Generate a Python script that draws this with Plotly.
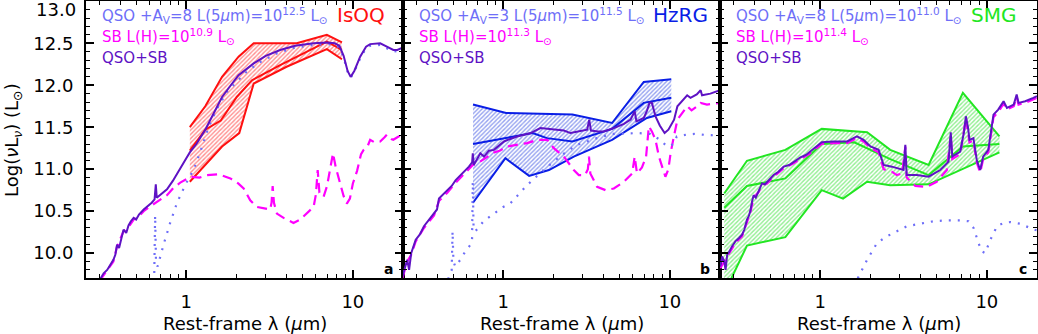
import numpy as np
import plotly.graph_objects as go

# ---- panel a : IsOQ ----
isoq_tot_wl = [0.302, 0.319, 0.335, 0.35, 0.365, 0.375, 0.384, 0.395, 0.41, 0.42, 0.436, 0.45, 0.465, 0.483,
               0.50, 0.52, 0.555, 0.59, 0.62, 0.645, 0.656, 0.665, 0.70, 0.766, 0.83, 0.88, 0.94, 1.0, 1.05,
               1.15, 1.30, 1.46, 1.64, 1.85, 2.06, 2.54, 3.0, 3.66, 4.5, 5.8, 7.0, 7.8, 8.3, 8.8, 9.3, 9.7,
               10.2, 11.06, 12.0, 12.7, 14.6, 16.0, 17.5, 18.5, 20.0]
isoq_tot_lum = [9.68, 9.76, 9.80, 9.86, 9.92, 9.98, 10.10, 10.06, 10.20, 10.28, 10.24, 10.33, 10.38, 10.42,
                10.40, 10.46, 10.52, 10.56, 10.60, 10.64, 10.82, 10.66, 10.70, 10.76, 10.86, 10.95, 11.05, 11.13,
                11.20, 11.30, 11.47, 11.67, 11.86, 12.00, 12.12, 12.26, 12.35, 12.42, 12.47, 12.50, 12.51, 12.50,
                12.47, 12.35, 12.17, 12.10, 12.17, 12.34, 12.46, 12.49, 12.50, 12.46, 12.42, 12.42, 12.45]
isoq_sb_wl = [0.302, 0.335, 0.365, 0.384, 0.42, 0.45, 0.483, 0.52, 0.555, 0.59, 0.62, 0.656, 0.70, 0.766,
              0.84, 0.92, 1.0, 1.06, 1.2, 1.33, 1.56, 1.84, 2.05, 2.21, 2.42, 2.65, 3.0, 3.19, 3.25, 3.3,
              3.36, 3.5, 3.84, 4.4, 4.83, 5.3, 5.81, 6.0, 6.15, 6.3, 6.67, 7.0, 7.6, 7.9, 8.4, 8.8, 9.2,
              9.6, 10.0, 10.6, 11.2, 11.6, 12.3, 12.7, 13.5, 14.6, 15.5, 16.0, 17.0, 17.5, 18.5, 20.0]
isoq_sb_lum = [9.67, 9.79, 9.90, 10.08, 10.26, 10.31, 10.40, 10.44, 10.50, 10.54, 10.57, 10.60, 10.64, 10.69,
               10.78, 10.84, 10.88, 10.91, 10.90, 10.93, 10.94, 10.89, 10.83, 10.77, 10.63, 10.55, 10.53, 10.52,
               10.60, 10.80, 10.60, 10.47, 10.42, 10.36, 10.40, 10.47, 10.55, 10.70, 10.99, 10.72, 10.67, 10.80,
               11.19, 11.02, 10.83, 10.68, 10.59, 10.65, 10.83, 10.98, 11.18, 11.23, 11.28, 11.35, 11.32, 11.33,
               11.38, 11.41, 11.36, 11.35, 11.38, 11.42]
isoq_qso_wl = [0.640, 0.650, 0.658, 0.673, 0.73, 0.80, 0.88, 0.99, 1.11, 1.21, 1.36, 1.53, 1.75, 2.01, 2.3,
               2.8, 3.5, 4.5, 5.8, 7.0, 7.8, 8.3, 8.8, 9.3, 9.7, 10.2, 11.06, 12.0, 12.7, 14.6, 16.0, 17.5, 20.0]
isoq_qso_lum = [9.55, 10.45, 9.90, 9.84, 10.10, 10.36, 10.60, 10.82, 11.00, 11.20, 11.50, 11.72, 11.92, 12.04,
                12.16, 12.28, 12.38, 12.45, 12.48, 12.49, 12.48, 12.45, 12.33, 12.16, 12.09, 12.16, 12.32, 12.44,
                12.47, 12.48, 12.44, 12.40, 12.42]
isoq_up_wl = [1.05, 1.30, 1.64, 2.06, 2.54, 4.6, 6.98, 8.6]
isoq_up_lum = [11.50, 11.75, 12.10, 12.34, 12.50, 12.50, 12.60, 12.51]
isoq_mid_wl = [1.05, 1.30, 1.61, 2.01, 2.48, 3.66, 6.98, 8.6]
isoq_mid_lum = [11.22, 11.47, 11.58, 11.86, 12.06, 12.24, 12.52, 12.42]
isoq_lo_wl = [1.05, 1.30, 1.64, 2.08, 2.54, 4.0, 6.98, 8.6]
isoq_lo_lum = [10.85, 11.05, 11.27, 11.43, 12.02, 12.22, 12.43, 12.31]

# ---- panel b : HzRG ----
hzrg_tot_wl = [0.248, 0.258, 0.265, 0.272, 0.28, 0.298, 0.315, 0.334, 0.36, 0.384, 0.40, 0.411, 0.435, 0.461,
               0.49, 0.518, 0.55, 0.581, 0.622, 0.65, 0.656, 0.665, 0.70, 0.728, 0.766, 0.82, 0.879, 0.95,
               1.01, 1.1, 1.21, 1.33, 1.46, 1.67, 1.85, 2.01, 2.31, 2.53, 2.9, 3.19, 3.28, 3.36, 3.7, 4.02,
               4.61, 5.3, 5.81, 6.15, 6.3, 6.98, 7.3, 7.55, 7.8, 8.2, 8.7, 9.0, 9.3, 9.8, 10.6, 11.1, 12.1,
               12.7, 13.3, 14.5, 15.3, 15.6, 17.5, 20.0]
hzrg_tot_lum = [9.72, 9.85, 9.92, 9.80, 10.00, 10.16, 10.22, 10.32, 10.40, 10.48, 10.52, 10.65, 10.70, 10.75,
                10.80, 10.87, 10.92, 10.97, 11.03, 11.08, 11.19, 11.05, 11.12, 11.19, 11.15, 11.22, 11.23, 11.28,
                11.33, 11.36, 11.39, 11.41, 11.43, 11.49, 11.48, 11.47, 11.46, 11.43, 11.45, 11.47, 11.59, 11.46,
                11.45, 11.45, 11.49, 11.54, 11.59, 11.69, 11.57, 11.61, 11.70, 11.79, 11.79, 11.63, 11.52, 11.47,
                11.43, 11.47, 11.59, 11.75, 11.83, 11.88, 11.85, 11.89, 11.94, 11.88, 11.90, 11.94]
hzrg_sb_wl = [0.248, 0.265, 0.28, 0.298, 0.334, 0.384, 0.411, 0.461, 0.518, 0.581, 0.622, 0.656, 0.70, 0.766,
              0.82, 0.88, 0.95, 1.06, 1.2, 1.39, 1.6, 1.84, 2.01, 2.31, 2.65, 2.84, 3.1, 3.22, 3.27, 3.33,
              3.66, 4.11, 4.61, 5.3, 5.94, 6.15, 6.35, 6.8, 7.2, 7.48, 7.8, 8.2, 8.6, 9.0, 9.4, 9.8, 10.1,
              10.6, 11.1, 12.7, 13.5, 14.6, 15.3, 16.7, 20.0]
hzrg_sb_lum = [9.70, 9.90, 9.98, 10.14, 10.30, 10.45, 10.62, 10.72, 10.84, 10.94, 11.00, 11.05, 11.07, 11.12,
               11.16, 11.20, 11.22, 11.27, 11.29, 11.31, 11.35, 11.35, 11.25, 11.15, 10.99, 10.93, 10.93, 11.00,
               11.15, 10.95, 10.79, 10.75, 10.77, 10.85, 10.95, 11.15, 10.95, 11.02, 11.15, 11.51, 11.45, 11.35,
               11.15, 11.03, 10.91, 11.00, 11.19, 11.40, 11.59, 11.75, 11.70, 11.75, 11.79, 11.77, 11.79]
hzrg_qso_wl = [0.466, 0.49, 0.496, 0.502, 0.515, 0.552, 0.60, 0.649, 0.656, 0.663, 0.68, 0.762, 0.836, 0.875,
               1.0, 1.10, 1.39, 1.79, 2.25, 2.77, 3.65, 4.5, 5.5, 6.5, 7.6, 8.75, 9.4, 10.0, 10.6, 11.0, 12.5,
               14.0, 16.0, 20.0]
hzrg_qso_lum = [9.69, 9.80, 10.26, 9.90, 9.84, 9.92, 10.04, 10.12, 10.85, 10.30, 10.26, 10.38, 10.44, 10.47,
                10.55, 10.59, 10.81, 11.01, 11.17, 11.29, 11.37, 11.42, 11.43, 11.43, 11.42, 11.35, 11.29, 11.27,
                11.31, 11.39, 11.41, 11.42, 11.41, 11.40]
hzrg_up_wl = [0.658, 1.04, 2.6, 3.3, 4.5, 6.97, 10.2]
hzrg_up_lum = [11.77, 11.67, 11.65, 11.61, 11.55, 12.04, 12.07]
hzrg_mid_wl = [0.658, 1.5, 1.83, 2.6, 4.5, 6.97, 10.2]
hzrg_mid_lum = [11.30, 11.43, 11.37, 11.33, 11.48, 11.79, 11.85]
hzrg_lo_wl = [0.658, 1.03, 1.43, 1.88, 2.65, 4.5, 7.28, 10.2]
hzrg_lo_lum = [10.60, 11.13, 10.92, 10.99, 11.15, 11.35, 11.61, 11.69]

# ---- panel c : SMG ----
smg_tot_wl = [0.251, 0.258, 0.265, 0.270, 0.276, 0.285, 0.295, 0.309, 0.325, 0.339, 0.35, 0.363, 0.372, 0.38,
              0.39, 0.398, 0.41, 0.427, 0.447, 0.465, 0.479, 0.50, 0.525, 0.56, 0.603, 0.65, 0.692, 0.76, 0.82,
              0.871, 0.95, 1.02, 1.2, 1.45, 1.55, 1.66, 1.82, 2.0, 2.24, 2.32, 2.40, 2.69, 3.16, 3.24, 3.30,
              3.8, 4.47, 5.25, 5.89, 6.07, 6.2, 6.92, 7.3, 7.48, 7.7, 7.87, 8.3, 8.7, 9.12, 9.5, 10.2, 10.96,
              11.7, 12.6, 13.2, 14.5, 15.1, 15.5, 17.0, 19.0, 20.0]
smg_tot_lum = [9.84, 9.96, 9.90, 9.80, 9.98, 10.02, 10.08, 10.14, 10.18, 10.22, 10.28, 10.40, 10.44, 10.50,
               10.62, 10.69, 10.66, 10.75, 10.83, 10.82, 10.85, 10.88, 10.93, 10.97, 11.03, 11.05, 11.09, 11.14,
               11.17, 11.21, 11.27, 11.32, 11.33, 11.33, 11.36, 11.39, 11.35, 11.27, 11.23, 11.15, 11.05, 11.03,
               10.99, 11.29, 10.93, 10.93, 10.91, 10.99, 11.09, 11.44, 11.15, 11.21, 11.45, 11.63, 11.50, 11.35,
               11.37, 11.11, 10.99, 11.15, 11.23, 11.65, 11.71, 11.81, 11.73, 11.77, 11.89, 11.79, 11.81, 11.85,
               11.87]
smg_sb_wl = [0.251, 0.276, 0.309, 0.339, 0.363, 0.38, 0.398, 0.427, 0.447, 0.479, 0.525, 0.603, 0.692, 0.76,
             0.871, 1.02, 1.2, 1.45, 1.66, 1.82, 2.0, 2.24, 2.40, 2.69, 2.88, 3.1, 3.24, 3.30, 3.72, 4.37, 5.0,
             5.75, 6.07, 6.2, 6.92, 7.48, 7.87, 8.3, 8.7, 9.12, 9.5, 10.2, 10.96, 11.7, 12.6, 13.2, 14.5, 15.1,
             15.5, 17.0, 20.0]
smg_sb_lum = [9.82, 9.96, 10.12, 10.20, 10.38, 10.48, 10.66, 10.73, 10.81, 10.83, 10.91, 11.01, 11.07, 11.12,
              11.19, 11.30, 11.31, 11.31, 11.37, 11.33, 11.25, 11.20, 11.00, 10.97, 10.93, 10.95, 11.27, 10.90,
              10.80, 10.79, 10.85, 10.99, 11.40, 11.12, 11.18, 11.60, 11.32, 11.34, 11.08, 10.96, 11.12, 11.20,
              11.62, 11.68, 11.78, 11.71, 11.75, 11.86, 11.77, 11.79, 11.85]
smg_qso_wl = [1.60, 1.66, 1.91, 2.19, 2.51, 2.88, 3.31, 3.98, 4.79, 5.75, 6.92, 7.76, 8.32, 8.91, 9.33, 9.77,
              10.5, 11.5, 12.6, 13.8, 15.8, 19.2, 20.0]
smg_qso_lum = [9.60, 9.68, 9.92, 10.12, 10.20, 10.26, 10.32, 10.35, 10.38, 10.39, 10.39, 10.38, 10.30, 10.12,
               10.02, 10.00, 10.16, 10.32, 10.36, 10.37, 10.35, 10.28, 10.27]
smg_up_wl = [0.265, 0.363, 0.617, 1.02, 1.91, 2.63, 4.47, 7.18, 11.9]
smg_up_lum = [10.71, 11.10, 11.23, 11.48, 11.44, 11.23, 11.05, 11.91, 11.39]
smg_mid_wl = [0.265, 0.363, 0.617, 1.02, 1.6, 2.63, 4.47, 7.18, 11.9]
smg_mid_lum = [10.54, 10.80, 10.89, 11.30, 11.32, 11.12, 10.93, 11.27, 11.30]
smg_lo_wl = [0.265, 0.363, 0.617, 1.02, 1.37, 1.91, 2.63, 4.47, 11.9]
smg_lo_lum = [9.52, 10.09, 10.19, 10.75, 10.65, 10.85, 10.81, 10.82, 11.20]

y_tickvals = [10.0, 10.5, 11.0, 11.5, 12.0, 12.5]

panel_names = ["IsOQ", "HzRG", "SMG"]
panel_letters = ["a", "b", "c"]
qso_labels = ["QSO +A<sub>V</sub>=8 L(5<i>μ</i>m)=10<sup>12.5</sup> L<sub>⊙</sub>",
              "QSO +A<sub>V</sub>=3 L(5<i>μ</i>m)=10<sup>11.5</sup> L<sub>⊙</sub>",
              "QSO +A<sub>V</sub>=8 L(5<i>μ</i>m)=10<sup>11.0</sup> L<sub>⊙</sub>"]
sb_labels = ["SB L(H)=10<sup>10.9</sup> L<sub>⊙</sub>",
             "SB L(H)=10<sup>11.3</sup> L<sub>⊙</sub>",
             "SB L(H)=10<sup>11.4</sup> L<sub>⊙</sub>"]

QSO_C = "#6e6ef8"
SB_C = "#ff00ff"
TOT_C = "#5e12c4"
FONT = "DejaVu Sans"

panels = [
    dict(tot=(isoq_tot_wl, isoq_tot_lum), sb=(isoq_sb_wl, isoq_sb_lum), qso=(isoq_qso_wl, isoq_qso_lum),
         up=(isoq_up_wl, isoq_up_lum), mid=(isoq_mid_wl, isoq_mid_lum), lo=(isoq_lo_wl, isoq_lo_lum),
         color="#ff1010", hatch="#ff2020", name_x=0.949),
    dict(tot=(hzrg_tot_wl, hzrg_tot_lum), sb=(hzrg_sb_wl, hzrg_sb_lum), qso=(hzrg_qso_wl, hzrg_qso_lum),
         up=(hzrg_up_wl, hzrg_up_lum), mid=(hzrg_mid_wl, hzrg_mid_lum), lo=(hzrg_lo_wl, hzrg_lo_lum),
         color="#0a1ee6", hatch="#2a44e0", name_x=0.968),
    dict(tot=(smg_tot_wl, smg_tot_lum), sb=(smg_sb_wl, smg_sb_lum), qso=(smg_qso_wl, smg_qso_lum),
         up=(smg_up_wl, smg_up_lum), mid=(smg_mid_wl, smg_mid_lum), lo=(smg_lo_wl, smg_lo_lum),
         color="#22e622", hatch="#22dd22", name_x=0.940),
]

W, H = 1038, 334
x_edges = [86, 403, 720, 1037]
y_top, y_bot = 1.3, 278.3

fig = go.Figure()
annotations = []
for i, p in enumerate(panels):
    n = "" if i == 0 else str(i + 1)
    xa, ya = "x" + n, "y" + n
    up_x, up_y = p["up"]
    lo_x, lo_y = p["lo"]
    # hatched band between upper and lower bounds
    fig.add_trace(go.Scatter(x=list(up_x) + list(lo_x)[::-1], y=list(up_y) + list(lo_y)[::-1],
                             xaxis=xa, yaxis=ya, mode="lines", fill="toself",
                             fillcolor="rgba(0,0,0,0)", line=dict(width=0),
                             fillpattern=dict(shape="/", fgcolor=p["hatch"], bgcolor="rgba(255,255,255,0)",
                                              size=3, solidity=0.45),
                             hoverinfo="skip", showlegend=False))
    for key in ("up", "mid", "lo"):
        fig.add_trace(go.Scatter(x=p[key][0], y=p[key][1], xaxis=xa, yaxis=ya, mode="lines",
                                 line=dict(color=p["color"], width=2), showlegend=False))
    fig.add_trace(go.Scatter(x=p["sb"][0], y=p["sb"][1], xaxis=xa, yaxis=ya, mode="lines",
                             line=dict(color=SB_C, width=2.2, dash="10px,6px"), showlegend=False))
    fig.add_trace(go.Scatter(x=p["qso"][0], y=p["qso"][1], xaxis=xa, yaxis=ya, mode="lines",
                             line=dict(color=QSO_C, width=2.2, dash="2px,7px"), showlegend=False))
    fig.add_trace(go.Scatter(x=p["tot"][0], y=p["tot"][1], xaxis=xa, yaxis=ya, mode="lines",
                             line=dict(color=TOT_C, width=2), showlegend=False))

    dom = [x_edges[i] / W, x_edges[i + 1] / W]
    fig.update_layout(**{
        "xaxis" + n: dict(type="log", domain=dom, range=[np.log10(0.25), np.log10(20)], anchor=ya,
                          showline=True, linecolor="black", linewidth=2, mirror="allticks",
                          ticks="inside", ticklen=8, tickwidth=1.5, tickcolor="black",
                          tickmode="array", tickvals=[1, 10], ticktext=["1", "10"],
                          ticklabelstandoff=6, showgrid=False, zeroline=False,
                          tickfont=dict(family=FONT, size=18, color="black"),
                          minor=dict(tickmode="array",
                                     tickvals=[0.3, 0.4, 0.5, 0.6, 0.7, 0.8, 0.9, 2, 3, 4, 5, 6, 7, 8, 9, 20],
                                     ticks="inside", ticklen=4, tickwidth=1, tickcolor="black", showgrid=False)),
        "yaxis" + n: dict(domain=[(H - y_bot) / H, (H - y_top) / H], range=[9.7, 13.0], anchor=xa,
                          showline=True, linecolor="black", linewidth=2, mirror="allticks",
                          ticks="inside", ticklen=8, tickwidth=1.5, tickcolor="black",
                          tickmode="array", tickvals=y_tickvals + [13.0],
                          ticktext=[f"{v:.1f}" for v in y_tickvals] + [""],
                          showticklabels=(i == 0),
                          ticklabelstandoff=7, showgrid=False, zeroline=False,
                          tickfont=dict(family=FONT, size=18, color="black"),
                          minor=dict(dtick=0.1, tick0=9.7, ticks="inside", ticklen=4, tickwidth=1,
                                     tickcolor="black", showgrid=False)),
    })

    xd, yd = xa + " domain", ya + " domain"
    for text, color, yy in ((qso_labels[i], QSO_C, 0.947), (sb_labels[i], SB_C, 0.873), ("QSO+SB", TOT_C, 0.797)):
        annotations.append(dict(text=text, xref=xd, yref=yd, x=0.044, y=yy, xanchor="left", yanchor="middle",
                                showarrow=False, font=dict(family=FONT, size=15, color=color)))
    annotations.append(dict(text=panel_names[i], xref=xd, yref=yd, x=p["name_x"], y=0.952, xanchor="right",
                            yanchor="middle", showarrow=False, font=dict(family=FONT, size=20, color=p["color"])))
    annotations.append(dict(text="<b>" + panel_letters[i] + "</b>", xref=xd, yref=yd, x=0.975, y=0.035,
                            xanchor="right", yanchor="middle", showarrow=False,
                            font=dict(family=FONT, size=14, color="black")))
    annotations.append(dict(text="Rest-frame λ (<i>μ</i>m)", xref="paper", yref="paper",
                            x=(x_edges[i] + x_edges[i + 1]) / 2 / W, y=(H - 323) / H,
                            xanchor="center", yanchor="middle", showarrow=False,
                            font=dict(family=FONT, size=18, color="black")))

# top tick label sits just inside the page, as in the original
annotations.append(dict(text="13.0", xref="paper", yref="paper", x=78 / W, y=(H - 9) / H,
                        xanchor="right", yanchor="middle", showarrow=False,
                        font=dict(family=FONT, size=18, color="black")))
annotations.append(dict(text="Log(<i>ν</i>L<sub><i>ν</i></sub>) (L<sub>⊙</sub>)", xref="paper", yref="paper",
                        x=13 / W, y=(H - 140) / H, textangle=-90, xanchor="center", yanchor="middle",
                        showarrow=False, font=dict(family=FONT, size=18, color="black")))

fig.update_layout(width=W, height=H, margin=dict(l=0, r=0, t=0, b=0),
                  paper_bgcolor="white", plot_bgcolor="white", annotations=annotations,
                  showlegend=False)
fig.write_html("out.html", config={"displayModeBar": False},
               post_script="document.body.style.margin='0px';")
